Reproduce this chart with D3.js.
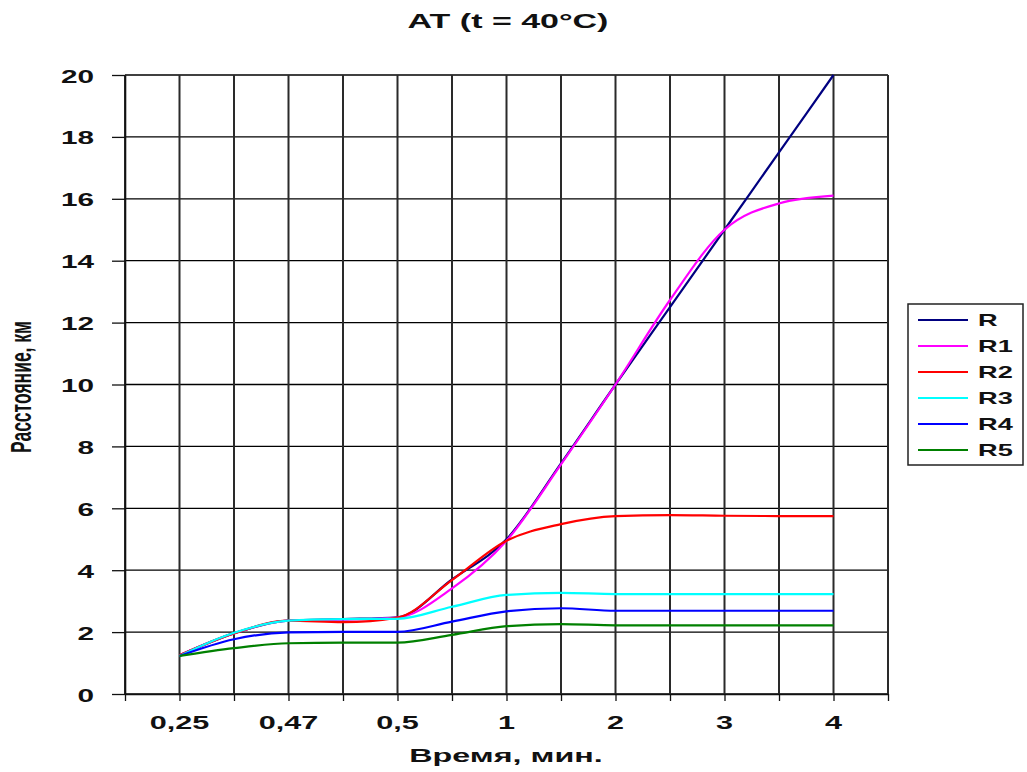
<!DOCTYPE html>
<html><head><meta charset="utf-8">
<script src="https://cdn.jsdelivr.net/npm/d3@7"></script>
<style>body{margin:0;background:#fff}svg{display:block}text{font-family:"Liberation Sans",Arial,sans-serif;font-weight:bold;fill:#111}</style>
</head><body><svg id="c" width="1027" height="772"></svg>
<script>
// Time labels (shown at every other grid position)
const timeLabels = ["0,25","0,47","0,5","1","2","3","4"];
// Data sampled at each vertical grid line (half-steps between labelled times)
const steps = [0,1,2,3,4,5,6,7,8,9,10,11,12];
const seriesNames = ["R","R1","R2","R3","R4","R5"];
const seriesColors = ["#000080","#FF00FF","#FF0000","#00FFFF","#0000FF","#008000"];
const R  = [1.25,1.96,2.37,2.42,2.48,3.70,5.00,7.45,10.0,12.5,15.0,17.5,20.0];
const R1 = [1.25,1.96,2.37,2.40,2.47,3.41,4.95,7.42,10.0,12.73,15.0,15.85,16.1];
const R2 = [1.25,1.96,2.37,2.32,2.47,3.68,4.95,5.49,5.75,5.78,5.76,5.75,5.75];
const R3 = [1.23,1.98,2.37,2.42,2.43,2.82,3.20,3.27,3.23,3.23,3.23,3.23,3.23];
const R4 = [1.23,1.77,1.99,2.01,2.01,2.34,2.67,2.77,2.69,2.69,2.69,2.69,2.69];
const R5 = [1.23,1.48,1.64,1.66,1.66,1.91,2.19,2.26,2.22,2.22,2.22,2.22,2.22];
const yTicks = [0,2,4,6,8,10,12,14,16,18,20];
const title = "AT (t = 40°C)";
const xTitle = "Время, мин.";
const yTitle = "Расстояние, км";

const allSeries = [R,R1,R2,R3,R4,R5];
const SX = 1.7; // horizontal text stretch seen in the reference
const svg = d3.select("#c");
const L = 125, Rr = 888, T = 75, B = 694;
const x = d3.scaleLinear().domain([-1,13]).range([L,Rr]);
const y = d3.scaleLinear().domain([0,20]).range([B,T]);

// horizontal grid
svg.append("g").selectAll("line").data(yTicks).join("line")
  .attr("x1",L).attr("x2",Rr).attr("y1",d=>y(d)).attr("y2",d=>y(d))
  .attr("stroke","#000").attr("stroke-width",1.3);
// vertical grid at every half step
const vg = d3.range(-1,14);
svg.append("g").selectAll("line").data(vg).join("line")
  .attr("x1",d=>x(d)).attr("x2",d=>x(d)).attr("y1",T).attr("y2",B)
  .attr("stroke","#2a2a2a").attr("stroke-width",2);

// y axis
const ya = svg.append("g").attr("transform",`translate(${L},0)`)
  .call(d3.axisLeft(y).tickValues(yTicks).tickSize(13).tickSizeOuter(0).tickFormat(d=>d));
ya.select(".domain").attr("stroke","#111").attr("stroke-width",1.6);
ya.selectAll(".tick line").attr("stroke","#111").attr("stroke-width",1.3);
ya.selectAll(".tick text").each(function(d){
  const t = d3.select(this);
  t.attr("x",null).attr("dy",null).attr("text-anchor","end").attr("font-size",17.5)
   .attr("transform",`translate(-31,7) scale(${SX},1)`);
});

// x axis
const xa = svg.append("g").attr("transform",`translate(0,${B})`)
  .call(d3.axisBottom(x).tickValues(vg).tickSize(7).tickSizeOuter(0).tickFormat(""));
xa.select(".domain").attr("stroke","#111").attr("stroke-width",1.6);
xa.selectAll(".tick line").attr("stroke","#111").attr("stroke-width",1.3);
svg.append("g").selectAll("text").data(timeLabels).join("text")
  .attr("text-anchor","middle").attr("font-size",18)
  .attr("transform",(d,i)=>`translate(${x(i*2)},729) scale(${SX},1)`)
  .text(d=>d);

// lines
const line = d3.line().x((d,i)=>x(steps[i])).y(d=>y(d)).curve(d3.curveMonotoneX);
svg.append("g").selectAll("path").data(allSeries).join("path")
  .attr("d",d=>line(d)).attr("fill","none")
  .attr("stroke",(d,i)=>seriesColors[i]).attr("stroke-width",2.2);

// titles
svg.append("text").attr("text-anchor","middle").attr("font-size",20)
  .attr("transform",`translate(508,28) scale(${SX},1)`).text(title);
svg.append("text").attr("text-anchor","middle").attr("font-size",19)
  .attr("transform",`translate(506,762) scale(${SX},1)`).text(xTitle);
svg.append("text").attr("text-anchor","middle").attr("font-size",17.5)
  .attr("transform",`translate(31,387) scale(${SX},1) rotate(-90)`).text(yTitle);

// legend
const lg = svg.append("g");
lg.append("rect").attr("x",908).attr("y",304).attr("width",115).attr("height",161)
  .attr("fill","#fff").attr("stroke","#222").attr("stroke-width",1.5);
const items = lg.selectAll("g.it").data(seriesNames).join("g").attr("class","it")
  .attr("transform",(d,i)=>`translate(0,${320+i*26})`);
items.append("line").attr("x1",918).attr("x2",968).attr("y1",0).attr("y2",0)
  .attr("stroke",(d,i)=>seriesColors[i]).attr("stroke-width",2);
items.append("text").attr("font-size",16)
  .attr("transform",`translate(978,6) scale(${SX},1)`).text(d=>d);
</script></body></html>
